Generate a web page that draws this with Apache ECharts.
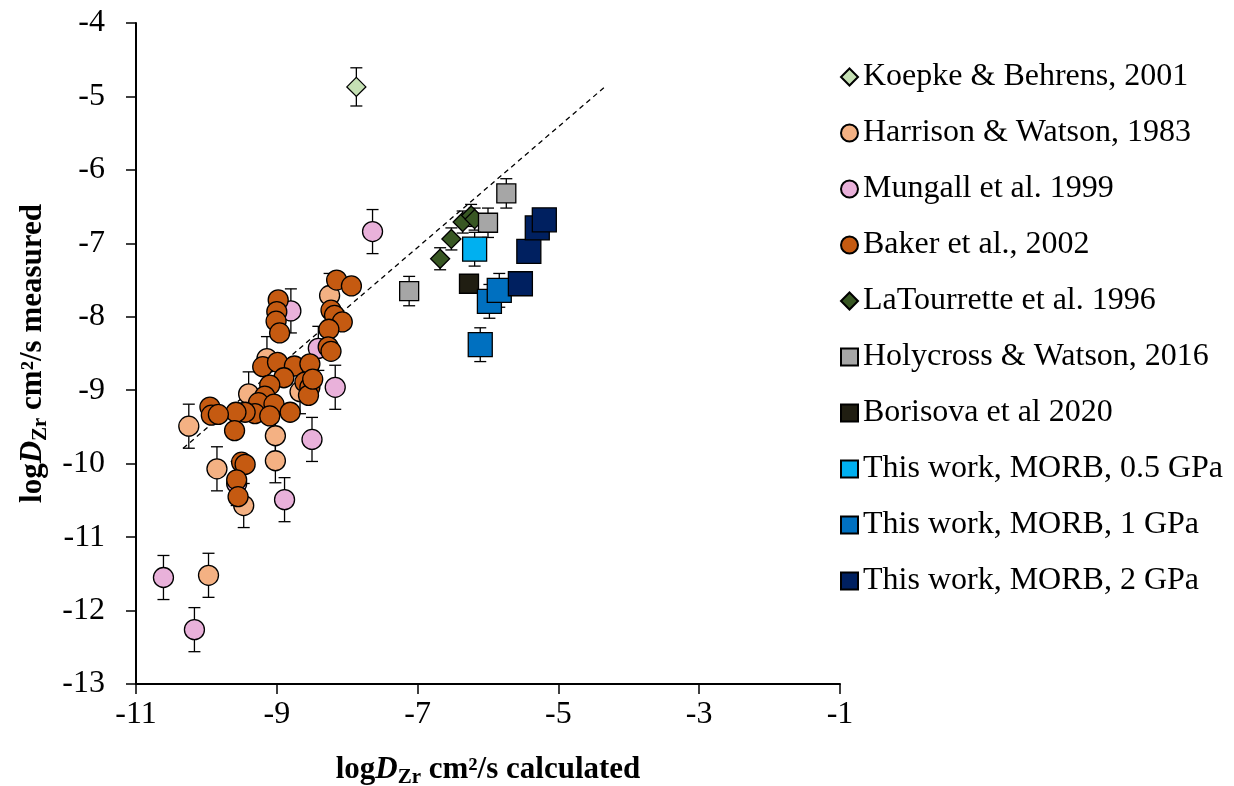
<!DOCTYPE html>
<html>
<head>
<meta charset="utf-8">
<script src="https://cdn.jsdelivr.net/npm/echarts@6/dist/echarts.min.js"></script>
<style>
  html, body { margin: 0; padding: 0; background: #fff; }
  #chart { width: 1234px; height: 786px; }
</style>
</head>
<body>
<div id="chart"></div>
<script>
// axis ticks
const xTicks = [-11, -9, -7, -5, -3, -1];

// [calculated, measured] pairs per data source
const koepke = [[-7.87, -4.87]];
const harrison = [
  [-10.25, -9.49], [-8.25, -7.71], [-9.40, -9.05], [-9.14, -8.57], [-9.02, -9.62],
  [-9.02, -9.96], [-9.85, -10.07], [-9.47, -10.57], [-8.67, -9.02], [-9.97, -11.52]
];
const mungall = [
  [-7.64, -6.84], [-8.80, -7.92], [-8.41, -8.43], [-8.17, -8.96], [-8.50, -9.67],
  [-8.89, -10.49], [-9.57, -10.27], [-10.61, -11.55], [-10.17, -12.26]
];
const baker = [
  [-8.15, -7.50], [-7.94, -7.58], [-8.98, -7.77], [-9.00, -7.93], [-9.01, -8.06],
  [-8.96, -8.22], [-8.23, -7.91], [-8.18, -7.98], [-8.07, -8.07], [-8.26, -8.17],
  [-8.27, -8.41], [-8.23, -8.47], [-9.20, -8.68], [-8.99, -8.62], [-8.75, -8.67],
  [-8.53, -8.64], [-8.90, -8.83], [-9.10, -8.93], [-8.60, -8.89], [-8.53, -8.96],
  [-8.55, -9.07], [-8.49, -8.85], [-9.17, -9.08], [-9.26, -9.17], [-9.04, -9.19],
  [-9.31, -9.32], [-9.10, -9.35], [-8.81, -9.30], [-9.45, -9.30], [-9.58, -9.30],
  [-9.95, -9.23], [-9.93, -9.34], [-9.83, -9.33], [-9.60, -9.55], [-9.50, -9.98],
  [-9.45, -10.01], [-9.57, -10.22], [-9.55, -10.45]
];
const laTourrette = [[-6.68, -7.21], [-6.52, -6.94], [-6.36, -6.71], [-6.24, -6.62], [-6.19, -6.67]];
const holycross = [[-5.74, -6.32], [-6.00, -6.72], [-7.12, -7.65]];
const borisova = [[-6.27, -7.55]];
const morb05 = [[-6.19, -7.08]];
const morb1 = [[-6.11, -8.38], [-5.98, -7.79], [-5.84, -7.64]];
const morb2 = [[-5.54, -7.55], [-5.42, -7.11], [-5.30, -6.79], [-5.20, -6.68]];

// dashed reference line
const trendLine = [[-10.33, -9.79], [-4.34, -4.87]];

const FONT = "'Liberation Serif', 'Times New Roman', serif";

const groups = [
  { name: 'Koepke & Behrens, 2001', data: koepke, symbol: 'diamond', size: 19, color: '#C5E0B4', err: 0.26 },
  { name: 'Harrison & Watson, 1983', data: harrison, symbol: 'circle', size: 20, color: '#F4B183', err: 0.3 },
  { name: 'Mungall et al. 1999', data: mungall, symbol: 'circle', size: 20, color: '#E9B1DA', err: 0.3 },
  { name: 'Baker et al., 2002', data: baker, symbol: 'circle', size: 20, color: '#C55A11', err: 0.1 },
  { name: 'LaTourrette et al. 1996', data: laTourrette, symbol: 'diamond', size: 19, color: '#385723', err: 0.15 },
  { name: 'Holycross & Watson, 2016', data: holycross, symbol: 'rect', size: 19, color: '#A6A6A6', err: 0.2 },
  { name: 'Borisova et al 2020', data: borisova, symbol: 'rect', size: 19, color: '#201E12', err: 0.1 },
  { name: 'This work, MORB, 0.5 GPa', data: morb05, symbol: 'rect', size: 24, color: '#00B0F0', err: 0.23 },
  { name: 'This work, MORB, 1 GPa', data: morb1, symbol: 'rect', size: 24, color: '#0070C0', err: 0.23 },
  { name: 'This work, MORB, 2 GPa', data: morb2, symbol: 'rect', size: 24, color: '#002060', err: 0.15 }
];

function errorBars(g, z) {
  return {
    type: 'custom',
    name: g.name + ' err',
    silent: true,
    z: z,
    encode: { x: 0, y: 1 },
    data: g.data.map(p => [p[0], p[1], g.err]),
    renderItem: (params, api) => {
      const top = api.coord([api.value(0), api.value(1) + api.value(2)]);
      const bot = api.coord([api.value(0), api.value(1) - api.value(2)]);
      const cap = 6;
      const style = { stroke: '#000', lineWidth: 1.3 };
      return {
        type: 'group',
        children: [
          { type: 'line', shape: { x1: top[0], y1: top[1], x2: bot[0], y2: bot[1] }, style },
          { type: 'line', shape: { x1: top[0] - cap, y1: top[1], x2: top[0] + cap, y2: top[1] }, style },
          { type: 'line', shape: { x1: bot[0] - cap, y1: bot[1], x2: bot[0] + cap, y2: bot[1] }, style }
        ]
      };
    }
  };
}

const series = [{
  type: 'line',
  data: trendLine,
  symbol: 'none',
  silent: true,
  z: 1,
  lineStyle: { color: '#000', width: 1.3, type: [5, 4] }
}];
groups.forEach((g, i) => {
  series.push(errorBars(g, 10 + i * 2));
  series.push({
    type: 'scatter',
    name: g.name,
    data: g.data,
    symbol: g.symbol,
    symbolSize: g.size,
    z: 11 + i * 2,
    itemStyle: { color: g.color, borderColor: '#000', borderWidth: 1.3, opacity: 1 }
  });
});

const nameRich = {
  b: { fontFamily: FONT, fontWeight: 'bold', fontSize: 31, color: '#000' },
  bi: { fontFamily: FONT, fontWeight: 'bold', fontStyle: 'italic', fontSize: 31, color: '#000' },
  sub: { fontFamily: FONT, fontWeight: 'bold', fontSize: 21, color: '#000', verticalAlign: 'top', padding: [15, 0, 0, 0] }
};

const chart = echarts.init(document.getElementById('chart'));
chart.setOption({
  animation: false,
  backgroundColor: '#fff',
  grid: { left: 136, right: 394, top: 23, bottom: 102, outerBoundsMode: 'none' },
  legend: {
    orient: 'vertical',
    left: 835,
    top: 56,
    itemWidth: 17,
    itemHeight: 17,
    itemGap: 24,
    data: groups.map(g => g.name),
    textStyle: { fontFamily: FONT, fontSize: 32, color: '#000', lineHeight: 32 }
  },
  xAxis: {
    type: 'value',
    min: -11,
    max: -1,
    name: '{b|log}{bi|D}{sub|Zr}{b| cm²/s calculated}',
    nameLocation: 'middle',
    nameGap: 68,
    nameTextStyle: { rich: nameRich },
    axisLine: { lineStyle: { color: '#000', width: 2 } },
    axisTick: { show: true, length: 10, inside: false, customValues: xTicks, lineStyle: { color: '#000', width: 1.5 } },
    axisLabel: { customValues: xTicks, margin: 15, fontFamily: FONT, fontSize: 32, color: '#000' },
    splitLine: { show: false }
  },
  yAxis: {
    type: 'value',
    min: -13,
    max: -4,
    interval: 1,
    name: '{b|log}{bi|D}{sub|Zr}{b| cm²/s measured}',
    nameLocation: 'middle',
    nameGap: 78,
    nameTextStyle: { rich: nameRich },
    axisLine: { show: true, lineStyle: { color: '#000', width: 2 } },
    axisTick: { show: true, length: 10, lineStyle: { color: '#000', width: 1.5 } },
    axisLabel: { margin: 31, fontFamily: FONT, fontSize: 32, color: '#000' },
    splitLine: { show: false }
  },
  series: series
});
</script>
</body>
</html>
